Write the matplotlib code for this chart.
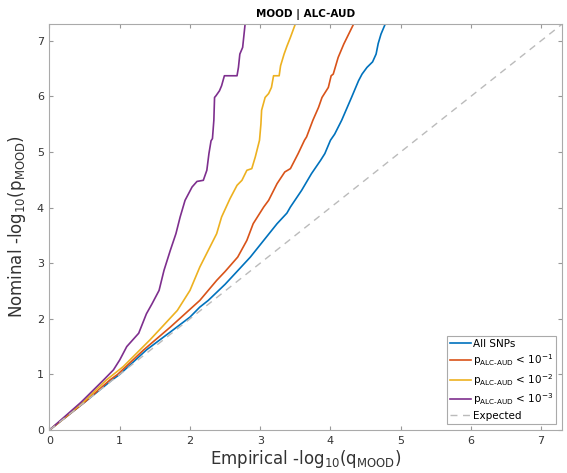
import matplotlib.pyplot as plt
import numpy as np

# curves read as (empirical, nominal) -log10 pairs
all_x = [0, 0.5, 0.89, 1.0, 1.38, 1.76, 2.00, 2.14, 2.26, 2.50, 2.64, 2.86, 3.05, 3.24, 3.38, 3.43, 3.59, 3.73,
         3.86, 3.92, 4.00, 4.06, 4.16, 4.30, 4.40, 4.45, 4.52, 4.60, 4.65, 4.68, 4.72, 4.78]
all_y = [0, 0.5, 0.90, 1.0, 1.44, 1.80, 2.03, 2.21, 2.33, 2.62, 2.81, 3.11, 3.41, 3.71, 3.90, 4.01, 4.31, 4.61,
         4.85, 4.97, 5.21, 5.32, 5.57, 5.98, 6.28, 6.40, 6.52, 6.62, 6.76, 6.95, 7.12, 7.30]

p1_x = [0, 0.5, 0.86, 0.97, 1.34, 1.72, 2.14, 2.38, 2.50, 2.68, 2.81, 2.90, 3.05, 3.12, 3.24, 3.35, 3.43, 3.54,
        3.63, 3.66, 3.75, 3.83, 3.88, 3.97, 4.01, 4.04, 4.11, 4.19, 4.26, 4.33]
p1_y = [0, 0.5, 0.90, 1.0, 1.44, 1.85, 2.33, 2.69, 2.85, 3.11, 3.41, 3.71, 4.01, 4.13, 4.43, 4.64, 4.70, 4.97,
        5.21, 5.27, 5.57, 5.80, 5.98, 6.16, 6.37, 6.40, 6.70, 6.94, 7.12, 7.30]

p2_x = [0, 0.48, 0.81, 1.05, 1.24, 1.43, 1.60, 1.82, 2.00, 2.14, 2.26, 2.38, 2.45, 2.57, 2.67, 2.74, 2.81, 2.88,
        2.93, 2.99, 3.01, 3.02, 3.07, 3.12, 3.16, 3.19, 3.27, 3.29, 3.34, 3.38, 3.43, 3.50]
p2_y = [0, 0.5, 0.90, 1.14, 1.38, 1.62, 1.85, 2.15, 2.51, 2.93, 3.23, 3.53, 3.83, 4.16, 4.40, 4.49, 4.67, 4.70,
        4.91, 5.21, 5.50, 5.75, 5.98, 6.05, 6.16, 6.37, 6.37, 6.55, 6.76, 6.90, 7.06, 7.30]

p3_x = [0, 0.45, 0.77, 0.91, 1.00, 1.10, 1.27, 1.38, 1.46, 1.56, 1.63, 1.72, 1.80, 1.86, 1.93, 2.03, 2.10, 2.19,
        2.24, 2.27, 2.30, 2.32, 2.34, 2.35, 2.37, 2.42, 2.45, 2.49, 2.67, 2.69, 2.71, 2.75, 2.76, 2.785]
p3_y = [0, 0.5, 0.90, 1.08, 1.26, 1.50, 1.74, 2.09, 2.27, 2.51, 2.87, 3.23, 3.53, 3.83, 4.13, 4.37, 4.47, 4.49,
        4.67, 4.97, 5.20, 5.24, 5.57, 5.98, 6.01, 6.10, 6.19, 6.37, 6.37, 6.52, 6.76, 6.88, 7.00, 7.30]

lim = -np.log10(5e-8)

fig = plt.figure(figsize=(5.67, 4.73), dpi=100)
ax = fig.add_axes([0.0873, 0.0909, 0.9044, 0.8584])

sub = 'p$_{\\mathregular{ALC\u2010AUD}}$'
ax.plot(all_x, all_y, color='#0072BD', lw=1.2, label='All SNPs')
ax.plot(p1_x, p1_y, color='#D95319', lw=1.2, label=sub + r' < 10$^{\mathregular{-1}}$')
ax.plot(p2_x, p2_y, color='#EDB120', lw=1.2, label=sub + r' < 10$^{\mathregular{-2}}$')
ax.plot(p3_x, p3_y, color='#7E2F8E', lw=1.2, label=sub + r' < 10$^{\mathregular{-3}}$')
ax.plot([0, lim], [0, lim], color='#bbbbbb', lw=1.0, ls=(0, (5, 4)), label='Expected')

ax.set_xlim(0, lim)
ax.set_ylim(0, lim)
ax.set_xticks(range(8))
ax.set_yticks(range(8))
ax.tick_params(direction='in', top=True, right=True, length=3, color='#999999',
               labelsize=8, labelcolor='#333333', pad=4)
for s in ax.spines.values():
    s.set_color('#aaaaaa')
    s.set_linewidth(0.8)

ax.set_title('MOOD | ALC-AUD', fontsize=7.5, fontweight='bold', pad=5)
ax.set_xlabel(r'Empirical -log$_{10}$(q$_{\mathregular{MOOD}}$)', fontsize=12, color='#333333', labelpad=2)
ax.set_ylabel(r'Nominal -log$_{10}$(p$_{\mathregular{MOOD}}$)', fontsize=12, color='#333333', labelpad=6)

leg = ax.legend(loc='lower right', fontsize=7.5, handlelength=2.0, handletextpad=0.2,
                labelspacing=0.35, borderpad=0.3, fancybox=False, framealpha=1,
                borderaxespad=0.6)
leg.get_frame().set_edgecolor('#aaaaaa')
leg.get_frame().set_linewidth(0.8)

fig.savefig('out.png', dpi=100)
